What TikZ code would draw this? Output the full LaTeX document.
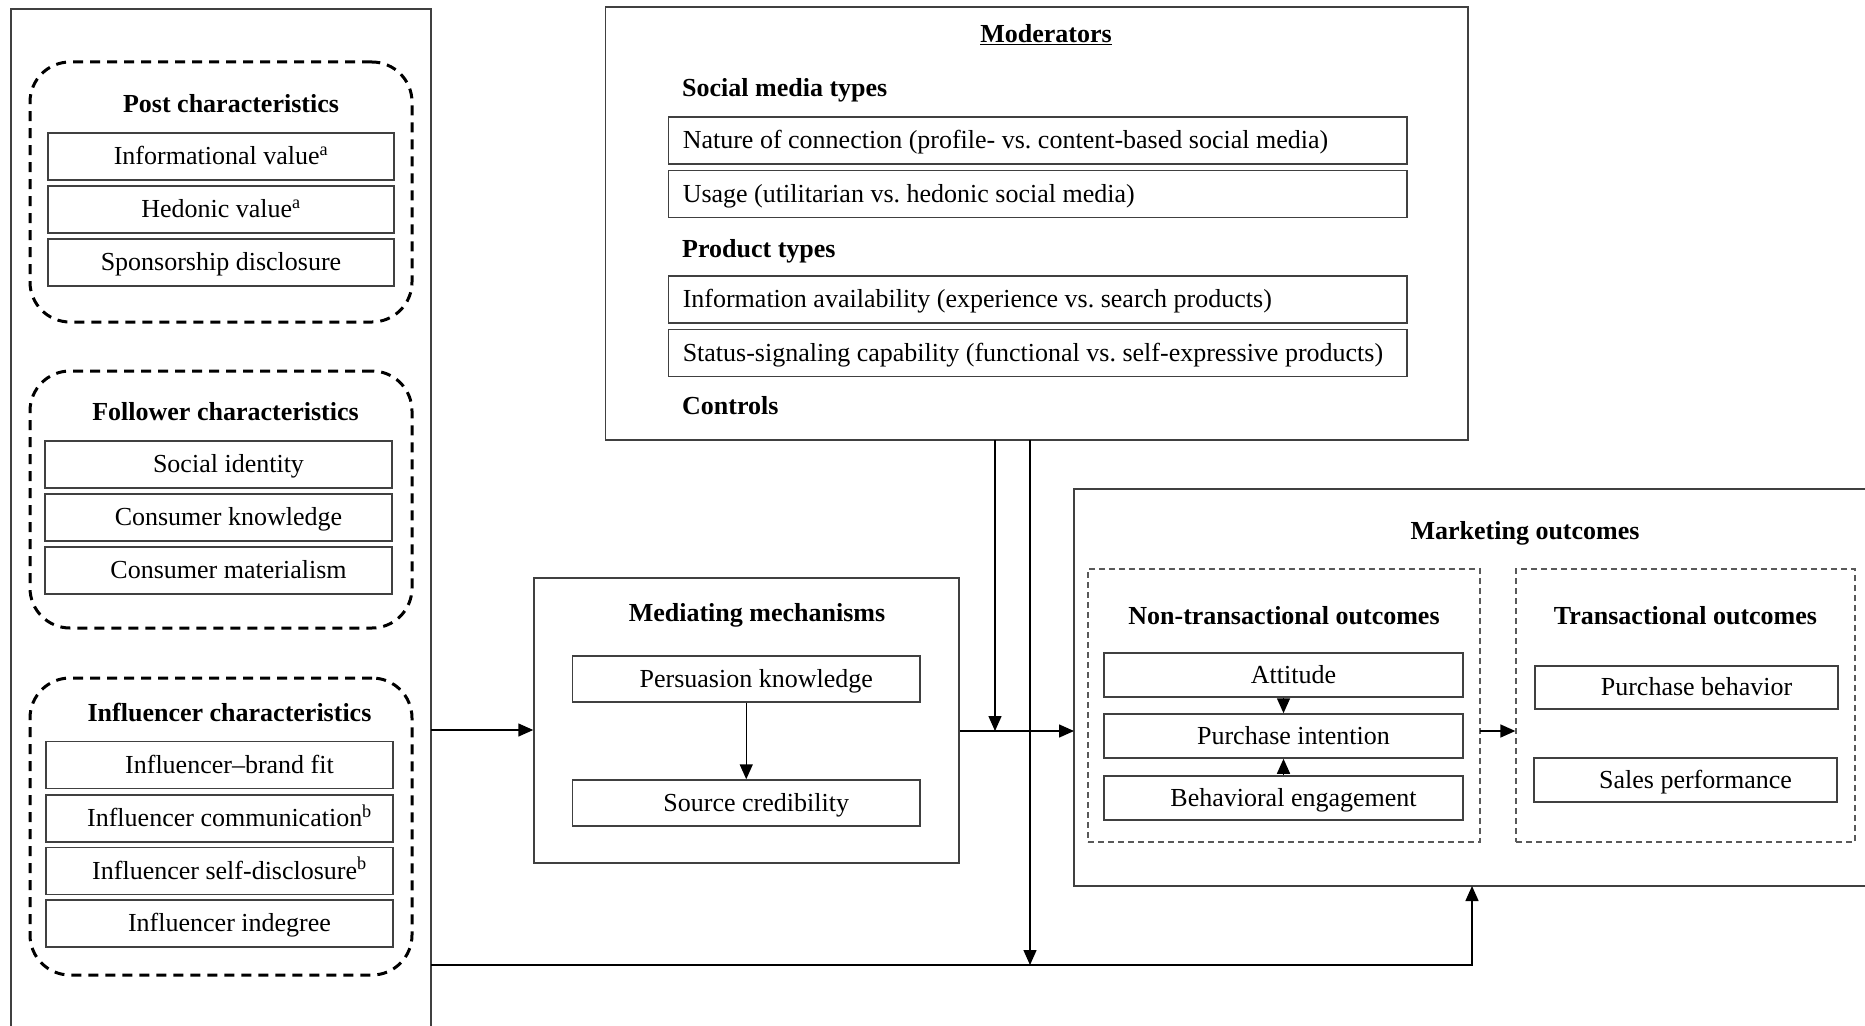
\documentclass[tikz,border=0pt]{standalone}
\usepackage{fontspec}
\setmainfont{Liberation Serif}
\usetikzlibrary{arrows.meta,calc}
\newcommand\fsz{\fontsize{26pt}{31pt}\selectfont\frenchspacing}
\newcommand\rsh{\hspace*{20pt}}
\newcommand\lrow[1]{\makebox[709.5pt][l]{#1}}
\begin{document}
\begin{tikzpicture}[x=1pt,y=-1pt,
  every node/.style={font=\fsz},
  lw/.style={line width=1.5pt, draw=black!75},
  rowbox/.style={draw=black!75, line width=1.5pt, minimum height=47pt, inner sep=0pt, text height=20pt, text depth=4pt},
  modrow/.style={rowbox, anchor=west, minimum width=738.5pt, inner xsep=14.5pt},
  grp/.style={draw=black, line width=3pt, dash pattern=on 10pt off 7pt, rounded corners=40pt, inner sep=0pt},
  sub/.style={draw=black!65, line width=1.3pt, dash pattern=on 6pt off 4pt, inner sep=0pt},
  ttl/.style={font={\fsz\bfseries}, anchor=base, inner sep=0pt},
  frame/.style={draw=black!75, line width=1.5pt, inner sep=0pt},
  arr/.style={-{Triangle[length=15pt,width=13pt]}, line width=1.5pt, draw=black},
]
\useasboundingbox (0,0) rectangle (1865,1025);
\fill[white] (0,0) rectangle (1865,1025);

% left outer frame (open at the bottom)
\draw[lw] (11,1030) -- (11,9) -- (431,9) -- (431,1030);
\coordinate (leftA) at (431,730);
\coordinate (leftB) at (431,965);

% Post characteristics
\node[grp, minimum width=382pt, minimum height=260pt] (postg) at (221,192) {};
\node[ttl] (postt) at (231,112) {Post characteristics};
\node[rowbox, minimum width=346pt] (iv) at (221,156.5) {Informational value\textsuperscript{a}};
\node[rowbox, minimum width=346pt] (hv) at (221,209.5) {Hedonic value\textsuperscript{a}};
\node[rowbox, minimum width=346pt] (sd) at (221,262.5) {Sponsorship disclosure};

% Follower characteristics
\node[grp, minimum width=382pt, minimum height=257pt] (folg) at (221,499.5) {};
\node[ttl] (folt) at (225.5,420) {Follower characteristics};
\node[rowbox, minimum width=347pt] (si) at (218.5,464.5) {\rsh Social identity};
\node[rowbox, minimum width=347pt] (ck) at (218.5,517.5) {\rsh Consumer knowledge};
\node[rowbox, minimum width=347pt] (cm) at (218.5,570.5) {\rsh Consumer materialism};

% Influencer characteristics
\node[grp, minimum width=382pt, minimum height=297pt] (infg) at (221,826.5) {};
\node[ttl] (inft) at (229.5,721) {Influencer characteristics};
\node[rowbox, minimum width=347pt] (ibf) at (219.5,765) {\rsh Influencer--brand fit};
\node[rowbox, minimum width=347pt] (ic) at (219.5,818.5) {\rsh Influencer communication\textsuperscript{b}};
\node[rowbox, minimum width=347pt] (isd) at (219.5,871) {\rsh Influencer self-disclosure\textsuperscript{b}};
\node[rowbox, minimum width=347pt] (ii) at (219.5,923.5) {\rsh Influencer indegree};

% Moderators
\node[frame, minimum width=862.5pt, minimum height=433pt] (mod) at (1036.75,223.5) {};
\node[ttl] (modt) at (1046,43) {\underline{Moderators}};
\node[ttl, anchor=base west] (smt) at (682,96) {Social media types};
\node[modrow] (nc) at (667.5,140.5) {\lrow{Nature of connection (profile- vs. content-based social media)}};
\node[modrow] (us) at (667.5,194) {\lrow{Usage (utilitarian vs. hedonic social media)}};
\node[ttl, anchor=base west] (prt) at (682,257) {Product types};
\node[modrow] (ia) at (667.5,299.5) {\lrow{Information availability (experience vs. search products)}};
\node[modrow] (ss) at (667.5,353) {\lrow{Status-signaling capability (functional vs. self-expressive products)}};
\node[ttl, anchor=base west] (ctl) at (682,414) {Controls};
\coordinate (m1) at (995,440);
\coordinate (m2) at (1030,440);

% Mediating mechanisms
\node[frame, minimum width=425pt, minimum height=285pt] (med) at (746.5,720.5) {};
\node[ttl] (medt) at (757,621) {Mediating mechanisms};
\node[rowbox, minimum width=347.5pt, minimum height=46pt] (pk) at (746.25,679) {\rsh Persuasion knowledge};
\node[rowbox, minimum width=347.5pt, minimum height=46pt] (sc) at (746.25,803) {\rsh Source credibility};

% Marketing outcomes (frame runs off the right edge)
\draw[lw] (1870,489) -- (1074,489) -- (1074,886) -- (1870,886);
\coordinate (mkA) at (1074,731);
\coordinate (mkB) at (1472,886);
\node[ttl] (mkt) at (1525,539) {Marketing outcomes};

\node[sub, minimum width=392pt, minimum height=273pt] (nont) at (1284,705.5) {};
\node[ttl] (nontt) at (1284,624) {Non-transactional outcomes};
\node[rowbox, minimum width=359pt, minimum height=44pt] (att) at (1283.5,675) {\rsh Attitude};
\node[rowbox, minimum width=359pt, minimum height=44pt] (pi) at (1283.5,736) {\rsh Purchase intention};
\node[rowbox, minimum width=359pt, minimum height=44pt] (be) at (1283.5,798) {\rsh Behavioral engagement};

\node[sub, minimum width=339pt, minimum height=273pt] (tr) at (1685.5,705.5) {};
\node[ttl] (trt) at (1685.5,624) {Transactional outcomes};
\node[rowbox, minimum width=303pt, minimum height=43pt] (pb) at (1686.5,687.5) {\rsh Purchase behavior};
\node[rowbox, minimum width=303pt, minimum height=44pt] (sp) at (1685.5,780) {\rsh Sales performance};
\coordinate (trA) at (1480,731);

% connectors
\draw[arr] (leftA) -- (med.west |- leftA);
\draw[arr] (med.east |- mkA) -- (mkA);
\draw[arr] (m1) -- (m1 |- mkA);
\draw[arr] (m2) -- (m2 |- leftB);
\draw[arr] (leftB) -- (mkB |- leftB) -- (mkB);
\draw[arr] (pk) -- (sc);
\draw[arr] (att) -- (pi);
\draw[arr] (be) -- (pi);
\draw[arr] (trA) -- (tr.west |- trA);
\end{tikzpicture}
\end{document}
